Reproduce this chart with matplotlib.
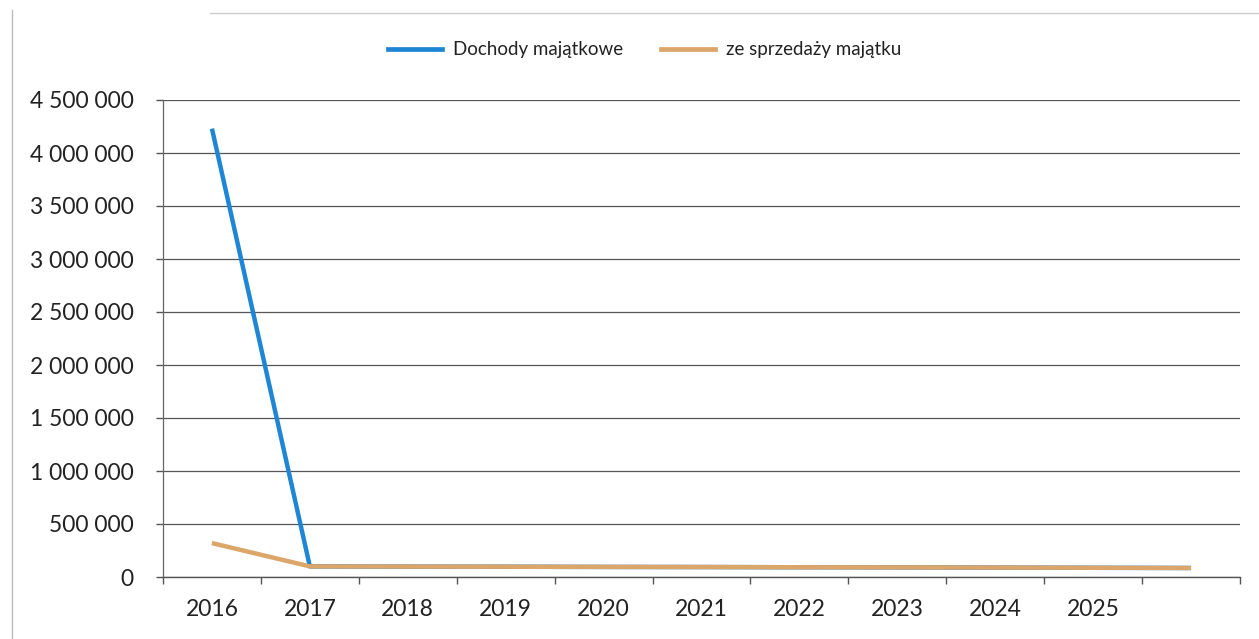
import matplotlib
matplotlib.use("Agg")
import matplotlib.pyplot as plt
from matplotlib.ticker import FuncFormatter, FixedLocator
from matplotlib.lines import Line2D

# Budget series (PLN)
years = ["2016", "2017", "2018", "2019", "2020", "2021", "2022", "2023", "2024", "2025", ""]
dochody_majatkowe = [4230000, 100000, 98000, 97000, 95000, 94000, 92000, 91000, 89000, 87000, 85000]
ze_sprzedazy = [320000, 100000, 98000, 97000, 95000, 94000, 92000, 91000, 89000, 87000, 85000]
y_ticks = [0, 500000, 1000000, 1500000, 2000000, 2500000, 3000000, 3500000, 4000000, 4500000]

plt.rcParams["font.family"] = ["Lato", "DejaVu Sans"]

W, H = 1259, 639
fig = plt.figure(figsize=(W / 100, H / 100), dpi=100)
ax = fig.add_axes([163 / W, 1 - 577 / H, (1240 - 163) / W, (577 - 100) / H])

x = list(range(len(years)))
blue = "#1f86d6"
tan = "#dca56a"
ax.plot(x, ze_sprzedazy, color=tan, lw=3.2, solid_capstyle="butt", zorder=3,
        label="ze sprzedaży majątku")
ax.plot(x, dochody_majatkowe, color=blue, lw=3.2, solid_capstyle="butt", zorder=2,
        label="Dochody majątkowe")

ax.set_xlim(-0.5, len(years) - 0.5)
ax.set_ylim(0, 4500000)

# category boundaries carry the tick marks, labels sit at centres
ax.xaxis.set_major_locator(FixedLocator([i - 0.5 for i in range(len(years) + 1)]))
ax.xaxis.set_minor_locator(FixedLocator(x))
ax.set_xticklabels([], minor=False)
ax.set_xticklabels(years, minor=True)
ax.tick_params(axis="x", which="major", length=5, width=1, color="#555555", direction="out")
ax.tick_params(axis="x", which="minor", length=0, pad=16, labelsize=16.5, labelcolor="#222222")

ax.set_yticks(y_ticks)
ax.yaxis.set_major_formatter(FuncFormatter(lambda v, p: f"{int(v):,}".replace(",", " ")))
ax.tick_params(axis="y", length=5, width=1, color="#555555", pad=16, labelsize=16.5, labelcolor="#222222")

ax.grid(axis="y", color="#555555", lw=0.9)
ax.set_axisbelow(True)
for s in ["top", "right"]:
    ax.spines[s].set_visible(False)
ax.spines["left"].set_color("#666666")
ax.spines["bottom"].set_color("#555555")
ax.spines["left"].set_linewidth(0.9)
ax.spines["bottom"].set_linewidth(1.0)

handles = [Line2D([], [], color=blue, lw=3.4), Line2D([], [], color=tan, lw=3.4)]
fig.legend(handles, ["Dochody majątkowe", "ze sprzedaży majątku"], ncol=2,
           loc="center", bbox_to_anchor=(0.512, 1 - 50 / H), frameon=False,
           fontsize=13.5, handlelength=2.9, handletextpad=0.6, columnspacing=2.0,
           labelcolor="#222222")

# outer chart frame edges
fig.add_artist(Line2D([12 / W, 12 / W], [0, 1 - 10 / H], transform=fig.transFigure,
                      color="#bbbbbb", lw=1))
fig.add_artist(Line2D([210 / W, 1], [1 - 13 / H, 1 - 13 / H], transform=fig.transFigure,
                      color="#cccccc", lw=1))

fig.savefig("out.png", dpi=100)
